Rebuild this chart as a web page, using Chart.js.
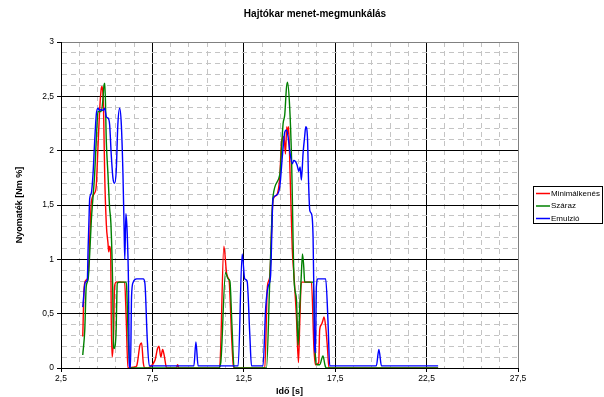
<!DOCTYPE html>
<html>
<head>
<meta charset="utf-8">
<script src="https://cdn.jsdelivr.net/npm/chart.js@4.4.1/dist/chart.umd.min.js"></script>
<style>
html, body { margin: 0; padding: 0; background: #fff; }
</style>
</head>
<body>
<canvas id="myChart" width="604" height="397"></canvas>
<script>
// series names and colours
var seriesNames = ['Minimálkenés', 'Száraz', 'Emulzió'];
var seriesColors = ['#ff0000', '#008000', '#0000ff'];
var chartTitle = 'Hajtókar menet-megmunkálás';

// Minimálkenés (red): time [s] / torque [Nm %]
var timeRed = [3.69,3.77,3.88,3.98,4.07,4.12,4.16,4.34,4.43,4.52,4.61,4.70,4.74,4.80,4.83,4.89,4.98,5.07,5.11,5.16,5.22,5.25,5.30,5.38,5.43,5.52,5.98,6.07,6.16,6.54,6.64,6.82,6.91,7.00,7.09,7.64,7.78,7.86,7.96,8.06,8.14,8.28,8.81,8.88,8.95,11.13,11.19,11.41,11.56,11.64,11.70,11.83,11.93,12.01,13.65,13.79,13.92,14.10,14.29,14.47,14.56,14.70,14.78,14.85,14.89,14.95,15.03,15.15,15.25,15.38,15.49,15.56,15.65,16.20,16.34,16.42,16.60,16.65,16.75,16.83,16.89,16.98,17.07,17.16,23.13];
var valRed = [0.29,0.75,0.81,0.84,1.18,1.40,1.53,1.61,1.68,2.02,2.36,2.57,2.59,2.51,2.36,1.78,1.32,1.15,1.07,1.12,1.05,0.44,0.10,0.32,0.75,0.79,0.79,0.44,0.00,0.01,0.02,0.21,0.23,0.05,0.00,0.07,0.18,0.20,0.10,0.17,0.12,0.00,0.00,0.03,0.00,0.00,0.02,1.12,0.87,0.83,0.80,0.30,0.02,0.00,0.00,0.75,0.84,1.55,1.59,1.76,2.07,2.13,1.97,2.22,2.15,2.22,1.80,1.10,0.84,0.47,0.05,0.41,0.79,0.79,0.17,0.03,0.05,0.35,0.40,0.44,0.47,0.38,0.20,0.00,0.00];

// Száraz (green)
var timeGreen = [3.69,3.80,3.88,3.98,4.07,4.16,4.34,4.47,4.52,4.70,4.80,4.85,4.90,4.98,5.07,5.16,5.23,5.33,5.36,5.40,5.51,5.58,5.70,6.05,6.09,6.18,6.27,11.13,11.24,11.50,11.64,11.74,11.85,11.97,13.74,13.92,14.10,14.47,14.65,14.74,14.83,14.89,15.01,15.11,15.25,15.38,15.47,15.56,15.65,15.71,15.78,15.83,16.30,16.42,16.50,16.65,16.83,16.95,17.02,23.13];
var valGreen = [0.12,0.35,0.75,0.81,1.05,1.36,1.78,2.24,2.36,2.36,2.48,2.60,2.62,2.08,1.78,1.47,1.33,0.72,0.29,0.18,0.32,0.78,0.79,0.79,0.75,0.26,0.00,0.00,0.05,0.88,0.82,0.80,0.40,0.00,0.00,0.80,1.58,1.78,2.25,2.33,2.57,2.63,2.40,1.94,0.81,0.63,0.21,0.56,0.87,1.05,0.93,0.79,0.79,0.10,0.03,0.03,0.11,0.02,0.00,0.00];

// Emulzió (blue)
var timeBlue = [3.69,3.83,3.94,3.98,4.03,4.07,4.16,4.25,4.34,4.43,4.52,4.61,4.70,4.80,4.89,4.98,5.07,5.16,5.25,5.34,5.43,5.52,5.61,5.71,5.80,5.89,5.95,5.99,6.05,6.12,6.19,6.24,6.30,6.36,6.45,6.64,7.00,7.09,7.22,7.33,9.77,9.88,10.00,12.19,12.41,12.55,12.68,12.83,12.92,13.55,13.70,13.83,13.96,14.10,14.29,14.47,14.62,14.74,14.83,14.92,15.01,15.16,15.23,15.33,15.41,15.51,15.58,15.65,15.74,15.83,15.89,15.98,16.05,16.11,16.20,16.29,16.34,16.38,16.42,16.47,16.56,16.98,17.11,17.20,19.75,19.89,20.03,23.13];
var valBlue = [0.56,0.79,0.81,1.08,1.36,1.56,1.61,1.78,2.08,2.33,2.39,2.37,2.38,2.37,2.39,2.31,2.30,2.24,1.96,1.75,1.70,1.81,2.24,2.39,2.24,1.78,1.30,1.00,1.42,1.25,0.80,0.02,0.00,0.66,0.79,0.82,0.82,0.78,0.26,0.02,0.02,0.24,0.02,0.02,1.05,0.82,0.80,0.30,0.02,0.02,0.56,0.75,0.84,1.56,1.59,1.67,1.97,2.17,2.19,2.13,2.00,1.88,1.91,1.90,1.87,1.81,1.85,1.73,1.97,2.13,2.22,2.13,1.67,1.45,1.42,1.20,0.60,0.17,0.14,0.75,0.82,0.82,0.41,0.02,0.02,0.17,0.02,0.02];

// axis tick labels (major ticks only)
var xTickLabels = ['2,5', '7,5', '12,5', '17,5', '22,5', '27,5'];
var yTickLabels = ['0', '0,5', '1', '1,5', '2', '2,5', '3'];

function toPoints(times, vals) {
    return times.map(function (t, i) { return { x: t, y: vals[i] }; });
}

function isMajorX(v) { var k = (v - 2.5) / 5; return Math.abs(k - Math.round(k)) < 1e-6; }
function isMajorY(v) { var k = v / 0.5; return Math.abs(k - Math.round(k)) < 1e-6; }

Chart.defaults.font.family = '"Liberation Sans", Arial, sans-serif';
Chart.defaults.color = '#000';

// title centred like the original (over the whole picture, a bit right of the middle)
var titleText = {
    id: 'titleText',
    afterDraw: function (chart) {
        var c = chart.ctx;
        c.save();
        c.font = 'bold 10px "Liberation Sans", Arial, sans-serif';
        c.fillStyle = '#000';
        c.textAlign = 'center';
        c.textBaseline = 'middle';
        c.fillText(chartTitle, 315, 14);
        c.restore();
    }
};

// legend with a black frame, drawn to the right of the plot
var boxLegend = {
    id: 'boxLegend',
    afterDraw: function (chart) {
        var c = chart.ctx;
        c.save();
        c.strokeStyle = '#000';
        c.lineWidth = 1;
        c.strokeRect(533.5, 186.5, 69, 37);
        c.font = '8px "Liberation Sans", Arial, sans-serif';
        c.textBaseline = 'middle';
        c.fillStyle = '#000';
        chart.data.datasets.forEach(function (ds, i) {
            var y = 193.5 + i * 12.5;
            c.strokeStyle = ds.borderColor;
            c.lineWidth = 1.5;
            c.beginPath();
            c.moveTo(536, y);
            c.lineTo(550, y);
            c.stroke();
            c.fillText(ds.label, 551, y);
        });
        c.restore();
    }
};

var ctx = document.getElementById('myChart').getContext('2d');
var chart = new Chart(ctx, {
    type: 'line',
    data: {
        datasets: [
            { label: seriesNames[0], data: toPoints(timeRed, valRed), borderColor: seriesColors[0], order: 3 },
            { label: seriesNames[1], data: toPoints(timeGreen, valGreen), borderColor: seriesColors[1], order: 2 },
            { label: seriesNames[2], data: toPoints(timeBlue, valBlue), borderColor: seriesColors[2], order: 1 }
        ]
    },
    options: {
        responsive: false,
        animation: false,
        layout: { padding: { left: 0, right: 86, top: 42, bottom: 0 } },
        elements: {
            point: { radius: 0 },
            line: { borderWidth: 1.4, cubicInterpolationMode: 'monotone', fill: false }
        },
        plugins: {
            legend: { display: false },
            tooltip: { enabled: false },
            title: { display: false }
        },
        scales: {
            x: {
                type: 'linear',
                min: 2.5,
                max: 27.5,
                afterBuildTicks: function (scale) {
                    var t = [];
                    for (var i = 0; i <= 25; i++) t.push({ value: 2.5 + i });
                    scale.ticks = t;
                },
                afterFit: function (scale) { scale.height = 29; },
                ticks: {
                    autoSkip: false,
                    maxRotation: 0,
                    padding: 2,
                    font: { size: 8.5 },
                    callback: function (v) {
                        return isMajorX(v) ? xTickLabels[Math.round((v - 2.5) / 5)] : '';
                    }
                },
                grid: {
                    tickLength: 4,
                    color: function (c) {
                        if (c.tick && c.tick.value === 27.5) return '#808080';
                        return c.tick && isMajorX(c.tick.value) ? '#000' : '#c4c4c4';
                    },
                    tickColor: function (c) { return c.tick && isMajorX(c.tick.value) ? '#000' : 'rgba(0,0,0,0)'; }
                },
                border: {
                    color: '#000',
                    dash: function (c) { return c.tick && isMajorX(c.tick.value) ? [] : [5, 4]; }
                },
                title: {
                    display: true,
                    text: 'Idő [s]',
                    font: { size: 9, weight: 'bold' },
                    padding: { top: 1, bottom: 0 }
                }
            },
            y: {
                min: 0,
                max: 3,
                afterBuildTicks: function (scale) {
                    var t = [];
                    for (var i = 0; i <= 30; i++) t.push({ value: i / 10 });
                    scale.ticks = t;
                },
                afterFit: function (scale) { scale.width = 61; },
                ticks: {
                    autoSkip: false,
                    padding: 3,
                    font: { size: 8.5 },
                    callback: function (v) {
                        return isMajorY(v) ? yTickLabels[Math.round(v / 0.5)] : '';
                    }
                },
                grid: {
                    tickLength: 4,
                    color: function (c) {
                        if (c.tick && Math.abs(c.tick.value - 3) < 1e-6) return '#808080';
                        return c.tick && isMajorY(c.tick.value) ? '#000' : '#c4c4c4';
                    },
                    tickColor: function (c) { return c.tick && isMajorY(c.tick.value) ? '#000' : 'rgba(0,0,0,0)'; }
                },
                border: {
                    color: '#000',
                    dash: function (c) { return c.tick && isMajorY(c.tick.value) ? [] : [5, 4]; }
                },
                title: {
                    display: true,
                    text: 'Nyomaték [Nm %]',
                    font: { size: 9, weight: 'bold' },
                    padding: { top: 14.5, bottom: 0 }
                }
            }
        }
    },
    plugins: [titleText, boxLegend]
});
</script>
</body>
</html>
